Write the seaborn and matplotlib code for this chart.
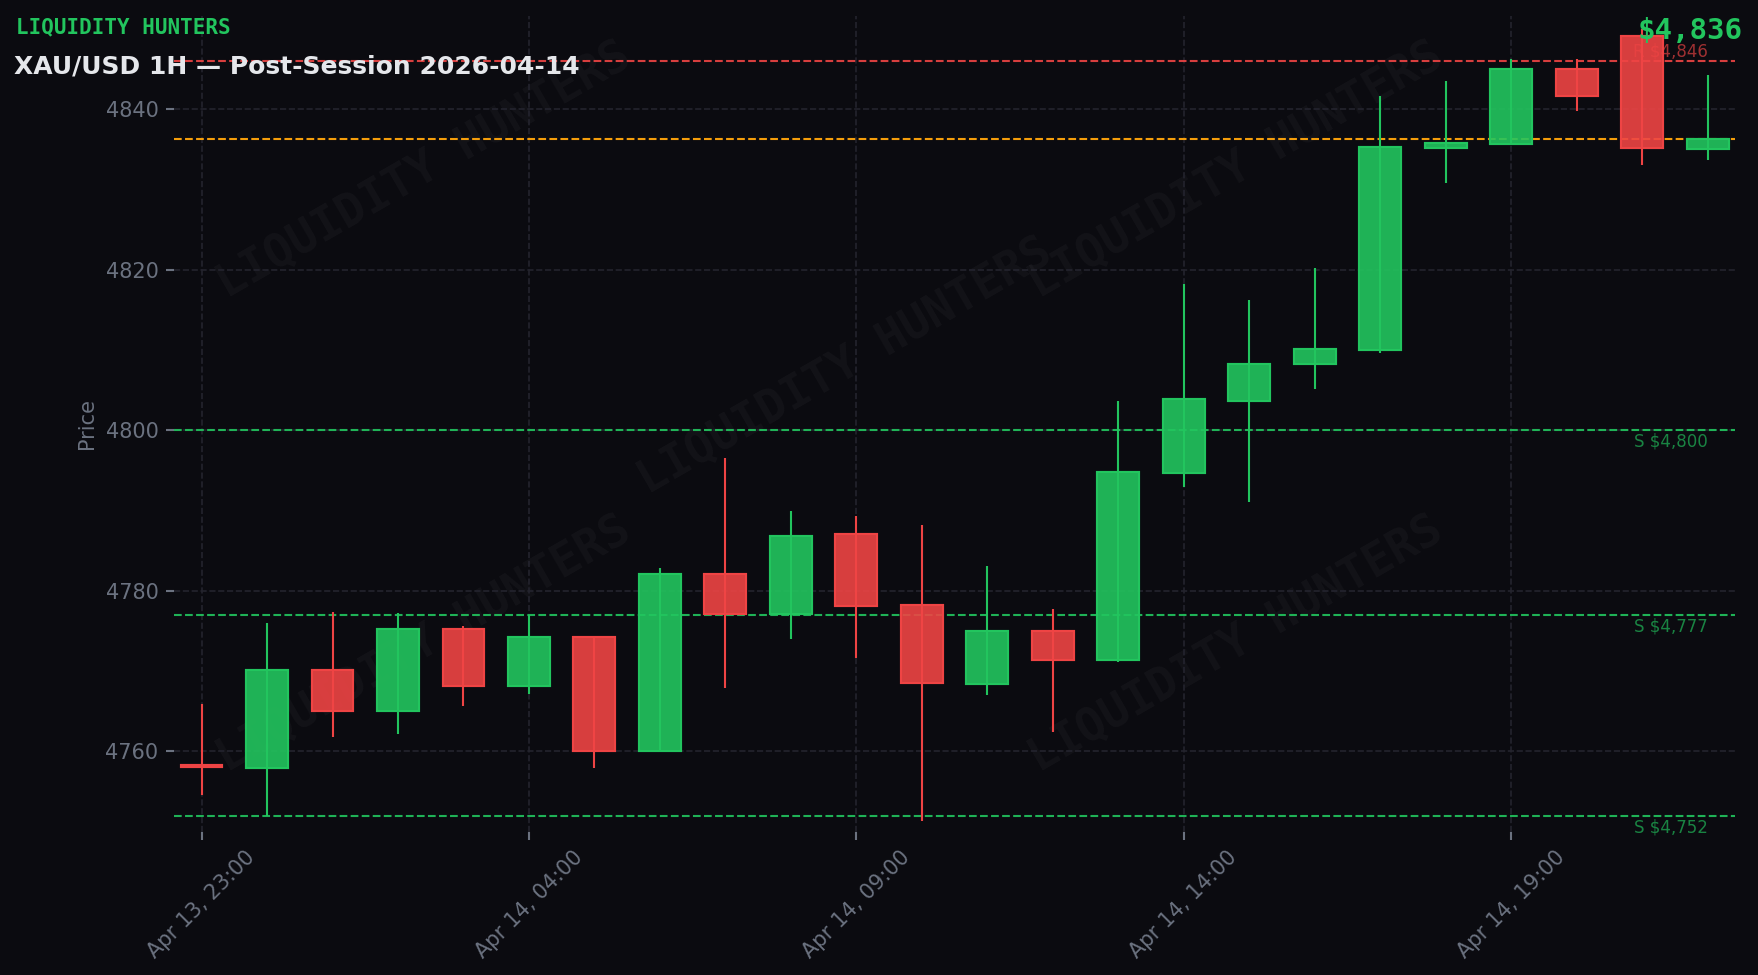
import numpy as np
import pandas as pd
import seaborn as sns
import matplotlib.pyplot as plt

# %% data (XAU/USD 1H candles)
times = pd.date_range("2026-04-13 23:00", periods=24, freq="h")
opens = [4758.3, 4757.9, 4770.1, 4765.0, 4775.3, 4768.1, 4774.3, 4760.0,
         4782.1, 4777.1, 4787.1, 4778.2, 4768.4, 4775.0, 4771.4, 4794.7,
         4803.7, 4808.3, 4810.0, 4835.2, 4835.7, 4845.0, 4849.2, 4835.1]
highs = [4765.9, 4776.0, 4777.4, 4777.2, 4775.6, 4777.0, 4774.3, 4782.9,
         4796.6, 4790.0, 4789.4, 4788.2, 4783.1, 4777.7, 4803.7, 4818.2,
         4816.2, 4820.2, 4841.7, 4843.6, 4846.3, 4846.3, 4850.0, 4844.3]
lows = [4754.6, 4751.9, 4761.8, 4762.2, 4765.6, 4767.1, 4757.9, 4760.0,
        4767.9, 4774.0, 4771.7, 4751.3, 4767.0, 4762.4, 4771.2, 4793.0,
        4791.1, 4805.2, 4809.7, 4830.9, 4835.7, 4839.8, 4833.1, 4833.7]
closes = [4758.0, 4770.1, 4765.0, 4775.3, 4768.1, 4774.3, 4760.0, 4782.1,
          4777.1, 4786.9, 4778.1, 4768.5, 4775.0, 4771.4, 4794.8, 4803.9,
          4808.3, 4810.1, 4835.3, 4835.8, 4845.0, 4841.7, 4835.2, 4836.3]

resistance = [4846]
supports = [4800, 4777, 4752]

df = pd.DataFrame({"time": times, "open": opens, "high": highs,
                   "low": lows, "close": closes})
df["x"] = np.arange(len(df))
df["up"] = df["close"] >= df["open"]

# %% colours
BG = "#0b0b10"
GREEN = "#22c55e"
RED = "#ef4444"
ORANGE = "#f59e0b"
MUTED = "#6b7280"
GRID = "#24242e"

sns.set_theme(style="dark", rc={
    "figure.facecolor": BG, "axes.facecolor": BG, "savefig.facecolor": BG,
    "axes.edgecolor": BG, "text.color": MUTED, "axes.labelcolor": MUTED,
    "xtick.color": MUTED, "ytick.color": MUTED,
    "xtick.bottom": True, "ytick.left": True,
    "font.size": 10, "axes.labelsize": 10,
    "xtick.labelsize": 10, "ytick.labelsize": 10,
})
plt.rcParams["font.family"] = ["DejaVu Sans"]

fig, ax = plt.subplots(figsize=(11.72, 6.5), dpi=150)
fig.subplots_adjust(left=0.099, right=0.987, bottom=0.147, top=0.984)

# %% watermark
for wx, wy in [(0.16, 0.81), (0.43, 0.57), (0.68, 0.81), (0.16, 0.23), (0.68, 0.23)]:
    ax.text(wx, wy, "LIQUIDITY HUNTERS", transform=ax.transAxes,
            fontsize=22, fontweight="bold", family="DejaVu Sans Mono",
            color="white", alpha=0.035, rotation=30,
            ha="center", va="center", zorder=0)

# %% candles
colors = np.where(df["up"], GREEN, RED)
ax.vlines(df["x"], df["low"], df["high"], colors=colors, linewidth=1.0, zorder=2)
body_lo = np.minimum(df["open"], df["close"])
body_h = np.maximum((df["close"] - df["open"]).abs(), 0.3)
ax.bar(df["x"], body_h, bottom=body_lo, width=0.64, color=colors,
       alpha=0.9, edgecolor=colors, linewidth=1.0, zorder=3)
ax.bar(df["x"], body_h, bottom=body_lo, width=0.64, color="none",
       edgecolor=colors, linewidth=1.0, zorder=4)

# %% levels
for r in resistance:
    ax.axhline(r, color=RED, linestyle="--", linewidth=1.0, alpha=0.9, zorder=1)
    ax.text(df["x"].iloc[-1], r + 0.15, f"R ${r:,.0f}", color=RED, alpha=0.65,
            fontsize=8, ha="right", va="bottom", zorder=5)
for s in supports:
    ax.axhline(s, color=GREEN, linestyle="--", linewidth=1.0, alpha=0.9, zorder=1)
    ax.text(df["x"].iloc[-1], s - 0.3, f"S ${s:,.0f}", color=GREEN, alpha=0.65,
            fontsize=8, ha="right", va="top", zorder=5)
last = df["close"].iloc[-1]
ax.axhline(last, color=ORANGE, linestyle="--", linewidth=1.0, zorder=1)

# %% axes
tick_idx = df["x"].iloc[::5]
ax.set_xticks(tick_idx)
ax.set_xticklabels([t.strftime("%b %d, %H:%M") for t in df["time"].iloc[::5]],
                   rotation=45)
ax.set_yticks([4760, 4780, 4800, 4820, 4840])
ax.set_xlim(-0.42, 23.42)
ax.set_ylim(4750.0, 4851.7)
ax.set_ylabel("Price")
ax.set_xlabel("")
ax.grid(True, color=GRID, linestyle="--", linewidth=0.8)
ax.tick_params(length=4, width=1, color=MUTED)
sns.despine(ax=ax, left=True, bottom=True)

# %% header texts
fig.text(0.009, 0.972, "LIQUIDITY HUNTERS", color=GREEN, fontsize=10,
         fontweight="bold", family="DejaVu Sans Mono", va="center", ha="left")
fig.text(0.008, 0.932, "XAU/USD 1H \u2014 Post-Session 2026-04-14",
         color="#e5e7eb", fontsize=12, fontweight="bold", va="center", ha="left")
fig.text(0.991, 0.9685, f"${last:,.0f}", color=GREEN, fontsize=14,
         fontweight="bold", family="DejaVu Sans Mono", va="center", ha="right")

fig.savefig("out.png", dpi=150)
